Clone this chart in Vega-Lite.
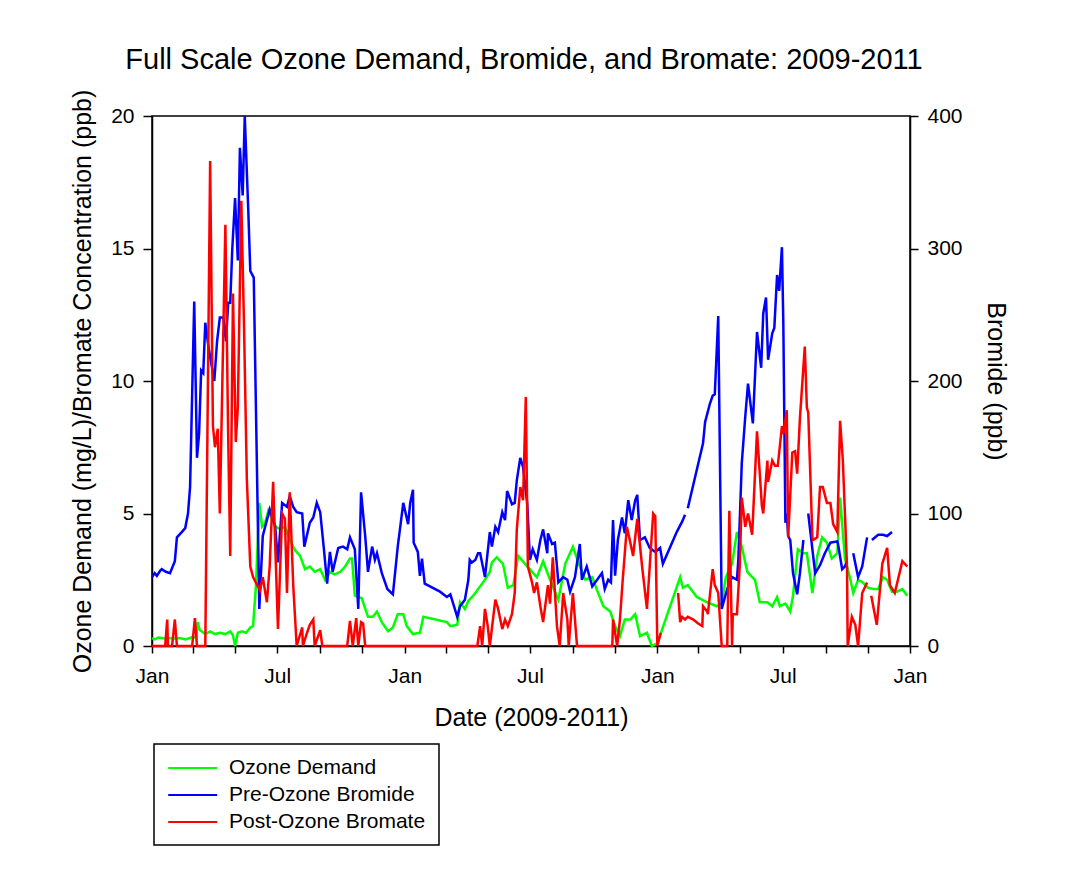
{
  "$schema": "https://vega.github.io/schema/vega-lite/v6.json",
  "autosize": {"type": "none"},
  "width": 758,
  "height": 530,
  "padding": {"left": 152, "top": 116, "right": 156, "bottom": 227},
  "background": "white",
  "title": {
    "text": "Full Scale Ozone Demand, Bromide, and Bromate: 2009-2011",
    "font": "Liberation Sans",
    "fontSize": 29,
    "fontWeight": "normal",
    "color": "black",
    "anchor": "middle",
    "frame": "group",
    "dx": -7,
    "offset": 14
  },
  "layer": [
    {
      "data": {
        "format": {"parse": {"d": "date:'%Y-%j'"}},
        "values": [
          {"d": "2009-001", "v": 0.3}, {"d": "2009-005", "v": 0.25}, {"d": "2009-010", "v": 0.32}, {"d": "2009-015", "v": 0.3},
          {"d": "2009-020", "v": 0.28}, {"d": "2009-027", "v": 0.3}, {"d": "2009-034", "v": 0.28}, {"d": "2009-041", "v": 0.3},
          {"d": "2009-049", "v": 0.25}, {"d": "2009-056", "v": 0.3}, {"d": "2009-060", "v": 0.35}, {"d": "2009-065", "v": 0.3},
          {"d": "2009-067", "v": 0.9}, {"d": "2009-070", "v": 0.6}, {"d": "2009-078", "v": 0.45}, {"d": "2009-085", "v": 0.55},
          {"d": "2009-092", "v": 0.45}, {"d": "2009-099", "v": 0.5}, {"d": "2009-107", "v": 0.45}, {"d": "2009-114", "v": 0.55},
          {"d": "2009-118", "v": 0.4}, {"d": "2009-121", "v": 0.0}, {"d": "2009-125", "v": 0.5}, {"d": "2009-131", "v": 0.55},
          {"d": "2009-137", "v": 0.5}, {"d": "2009-143", "v": 0.7}, {"d": "2009-147", "v": 0.75}, {"d": "2009-151", "v": 2.2},
          {"d": "2009-156", "v": 5.4}, {"d": "2009-160", "v": 4.5}, {"d": "2009-164", "v": 4.6}, {"d": "2009-169", "v": 5.1},
          {"d": "2009-174", "v": 4.8}, {"d": "2009-180", "v": 4.5}, {"d": "2009-186", "v": 4.4}, {"d": "2009-193", "v": 4.5},
          {"d": "2009-200", "v": 4.0}, {"d": "2009-208", "v": 3.6}, {"d": "2009-215", "v": 3.4}, {"d": "2009-222", "v": 2.9},
          {"d": "2009-229", "v": 3.0}, {"d": "2009-236", "v": 2.8}, {"d": "2009-244", "v": 2.9}, {"d": "2009-251", "v": 2.5},
          {"d": "2009-258", "v": 2.8}, {"d": "2009-265", "v": 2.7}, {"d": "2009-273", "v": 2.8}, {"d": "2009-280", "v": 3.0},
          {"d": "2009-287", "v": 3.3}, {"d": "2009-290", "v": 3.3}, {"d": "2009-294", "v": 1.9}, {"d": "2009-304", "v": 1.8},
          {"d": "2009-313", "v": 1.1}, {"d": "2009-320", "v": 1.1}, {"d": "2009-326", "v": 1.3}, {"d": "2009-333", "v": 0.9},
          {"d": "2009-342", "v": 0.56}, {"d": "2009-349", "v": 0.7}, {"d": "2009-356", "v": 1.2}, {"d": "2009-364", "v": 1.2},
          {"d": "2010-004", "v": 0.75}, {"d": "2010-013", "v": 0.45}, {"d": "2010-023", "v": 0.5}, {"d": "2010-028", "v": 1.1},
          {"d": "2010-062", "v": 0.9}, {"d": "2010-067", "v": 0.75}, {"d": "2010-077", "v": 0.8}, {"d": "2010-081", "v": 1.65},
          {"d": "2010-088", "v": 1.4}, {"d": "2010-093", "v": 1.7}, {"d": "2010-100", "v": 1.9}, {"d": "2010-110", "v": 2.25},
          {"d": "2010-117", "v": 2.5}, {"d": "2010-124", "v": 2.8}, {"d": "2010-127", "v": 3.15}, {"d": "2010-134", "v": 3.35},
          {"d": "2010-143", "v": 3.1}, {"d": "2010-150", "v": 2.2}, {"d": "2010-158", "v": 2.3}, {"d": "2010-165", "v": 3.4},
          {"d": "2010-175", "v": 3.1}, {"d": "2010-185", "v": 2.8}, {"d": "2010-192", "v": 2.6}, {"d": "2010-201", "v": 3.2},
          {"d": "2010-211", "v": 2.5}, {"d": "2010-223", "v": 1.75}, {"d": "2010-233", "v": 3.1}, {"d": "2010-244", "v": 3.75},
          {"d": "2010-254", "v": 3.0}, {"d": "2010-262", "v": 2.5}, {"d": "2010-272", "v": 2.6}, {"d": "2010-279", "v": 2.1},
          {"d": "2010-288", "v": 1.5}, {"d": "2010-298", "v": 1.3}, {"d": "2010-305", "v": 0.75}, {"d": "2010-312", "v": 0.37},
          {"d": "2010-319", "v": 1.0}, {"d": "2010-327", "v": 1.0}, {"d": "2010-334", "v": 1.2}, {"d": "2010-341", "v": 0.37},
          {"d": "2010-351", "v": 0.5}, {"d": "2010-358", "v": 0.0}, {"d": "2011-001", "v": 0.1}, {"d": "2011-034", "v": 2.6},
          {"d": "2011-038", "v": 2.2}, {"d": "2011-045", "v": 2.3}, {"d": "2011-058", "v": 1.85}, {"d": "2011-073", "v": 1.65},
          {"d": "2011-087", "v": 1.5}, {"d": "2011-094", "v": 1.6}, {"d": "2011-100", "v": 2.6}, {"d": "2011-109", "v": 3.1},
          {"d": "2011-116", "v": 4.3}, {"d": "2011-123", "v": 3.75}, {"d": "2011-131", "v": 2.8}, {"d": "2011-138", "v": 2.6},
          {"d": "2011-142", "v": 2.5}, {"d": "2011-149", "v": 1.65}, {"d": "2011-160", "v": 1.65}, {"d": "2011-167", "v": 1.5},
          {"d": "2011-174", "v": 1.85}, {"d": "2011-178", "v": 1.5}, {"d": "2011-186", "v": 1.6}, {"d": "2011-193", "v": 1.3},
          {"d": "2011-197", "v": 1.9}, {"d": "2011-204", "v": 3.65}, {"d": "2011-212", "v": 3.5}, {"d": "2011-217", "v": 3.5},
          {"d": "2011-225", "v": 2.0}, {"d": "2011-232", "v": 3.4}, {"d": "2011-239", "v": 4.1}, {"d": "2011-246", "v": 3.9},
          {"d": "2011-253", "v": 3.3}, {"d": "2011-261", "v": 3.5}, {"d": "2011-265", "v": 5.6}, {"d": "2011-272", "v": 3.3},
          {"d": "2011-279", "v": 2.6}, {"d": "2011-284", "v": 2.0}, {"d": "2011-291", "v": 2.5}, {"d": "2011-298", "v": 2.4},
          {"d": "2011-305", "v": 2.2}, {"d": "2011-313", "v": 2.15}, {"d": "2011-320", "v": 2.15}, {"d": "2011-327", "v": 2.6},
          {"d": "2011-333", "v": 2.5}, {"d": "2011-340", "v": 2.05}, {"d": "2011-347", "v": 2.05}, {"d": "2011-355", "v": 2.15},
          {"d": "2011-362", "v": 1.9}
        ]
      },
      "mark": {"type": "line", "strokeWidth": 2.5, "invalid": "break-paths-filter-domains"},
      "encoding": {
        "x": {
          "field": "d", "type": "temporal",
          "scale": {"domain": [{"year": 2009, "month": 1, "date": 1}, {"year": 2012, "month": 1, "date": 1}], "nice": false},
          "axis": {
            "title": "Date (2009-2011)",
            "tickCount": {"interval": "month", "step": 2},
            "labelExpr": "month(datum.value) == 0 || month(datum.value) == 6 ? timeFormat(datum.value, '%b') : ''",
            "tickSize": 7, "labelPadding": 12, "titlePadding": 19,
            "labelFlush": false, "labelOverlap": false, "labelBound": false
          }
        },
        "y": {
          "field": "v", "type": "quantitative",
          "scale": {"domain": [0, 20], "nice": false, "zero": true},
          "axis": {
            "orient": "left",
            "title": "Ozone Demand (mg/L)/Bromate Concentration (ppb)",
            "values": [0, 5, 10, 15, 20],
            "tickSize": 9, "labelPadding": 9, "titlePadding": 15
          }
        },
        "color": {
          "datum": "Ozone Demand", "type": "nominal",
          "scale": {"domain": ["Ozone Demand", "Pre-Ozone Bromide", "Post-Ozone Bromate"], "range": ["#00ff00", "#0000ff", "#ff0000"]},
          "legend": {
            "title": null, "orient": "none", "legendX": 2, "legendY": 628,
            "direction": "vertical",
            "strokeColor": "black", "fillColor": "white",
            "padding": 13, "symbolType": "M-1,0H4", "symbolSize": 384, "symbolStrokeWidth": 2,
            "labelFontSize": 21, "labelFont": "Liberation Sans", "labelColor": "black",
            "labelOffset": 40, "rowPadding": 6, "labelLimit": 400
          }
        }
      }
    },
    {
      "data": {
        "format": {"parse": {"d": "date:'%Y-%j'"}},
        "values": [
          {"d": "2009-001", "v": 52}, {"d": "2009-005", "v": 55}, {"d": "2009-008", "v": 53}, {"d": "2009-013", "v": 57},
          {"d": "2009-015", "v": 58}, {"d": "2009-021", "v": 56}, {"d": "2009-027", "v": 55}, {"d": "2009-034", "v": 64},
          {"d": "2009-037", "v": 82}, {"d": "2009-044", "v": 86}, {"d": "2009-049", "v": 89}, {"d": "2009-053", "v": 100},
          {"d": "2009-056", "v": 120}, {"d": "2009-062", "v": 260}, {"d": "2009-066", "v": 142}, {"d": "2009-069", "v": 160},
          {"d": "2009-072", "v": 208}, {"d": "2009-075", "v": 206}, {"d": "2009-078", "v": 244}, {"d": "2009-082", "v": 228},
          {"d": "2009-086", "v": 215}, {"d": "2009-091", "v": 200}, {"d": "2009-095", "v": 230}, {"d": "2009-099", "v": 248},
          {"d": "2009-104", "v": 248}, {"d": "2009-108", "v": 230}, {"d": "2009-111", "v": 259}, {"d": "2009-114", "v": 259},
          {"d": "2009-117", "v": 300}, {"d": "2009-121", "v": 338}, {"d": "2009-125", "v": 291}, {"d": "2009-128", "v": 376},
          {"d": "2009-132", "v": 340}, {"d": "2009-135", "v": 400}, {"d": "2009-140", "v": 330}, {"d": "2009-143", "v": 283},
          {"d": "2009-148", "v": 278}, {"d": "2009-156", "v": 28}, {"d": "2009-161", "v": 83}, {"d": "2009-167", "v": 95},
          {"d": "2009-171", "v": 103}, {"d": "2009-179", "v": 90}, {"d": "2009-183", "v": 63}, {"d": "2009-189", "v": 108},
          {"d": "2009-196", "v": 105}, {"d": "2009-200", "v": 113}, {"d": "2009-205", "v": 105}, {"d": "2009-210", "v": 101},
          {"d": "2009-218", "v": 100}, {"d": "2009-221", "v": 75}, {"d": "2009-229", "v": 93}, {"d": "2009-234", "v": 97},
          {"d": "2009-239", "v": 108}, {"d": "2009-244", "v": 101}, {"d": "2009-249", "v": 75}, {"d": "2009-254", "v": 47},
          {"d": "2009-258", "v": 71}, {"d": "2009-262", "v": 56}, {"d": "2009-270", "v": 74}, {"d": "2009-277", "v": 75},
          {"d": "2009-283", "v": 73}, {"d": "2009-287", "v": 82}, {"d": "2009-294", "v": 73}, {"d": "2009-299", "v": 28},
          {"d": "2009-303", "v": 116}, {"d": "2009-309", "v": 83}, {"d": "2009-313", "v": 56}, {"d": "2009-319", "v": 75},
          {"d": "2009-323", "v": 65}, {"d": "2009-326", "v": 70}, {"d": "2009-333", "v": 55}, {"d": "2009-341", "v": 43},
          {"d": "2009-349", "v": 39}, {"d": "2009-356", "v": 75}, {"d": "2009-364", "v": 108}, {"d": "2010-006", "v": 92},
          {"d": "2010-009", "v": 108}, {"d": "2010-013", "v": 118}, {"d": "2010-014", "v": 78}, {"d": "2010-020", "v": 71},
          {"d": "2010-023", "v": 53}, {"d": "2010-026", "v": 66}, {"d": "2010-030", "v": 47}, {"d": "2010-052", "v": 41},
          {"d": "2010-062", "v": 37}, {"d": "2010-067", "v": 39}, {"d": "2010-077", "v": 22}, {"d": "2010-081", "v": 30},
          {"d": "2010-088", "v": 35}, {"d": "2010-093", "v": 50}, {"d": "2010-095", "v": 65}, {"d": "2010-098", "v": 63},
          {"d": "2010-103", "v": 65}, {"d": "2010-107", "v": 70}, {"d": "2010-110", "v": 70}, {"d": "2010-117", "v": 52},
          {"d": "2010-124", "v": 86}, {"d": "2010-127", "v": 75}, {"d": "2010-132", "v": 90}, {"d": "2010-136", "v": 86},
          {"d": "2010-142", "v": 101}, {"d": "2010-146", "v": 95}, {"d": "2010-149", "v": 117}, {"d": "2010-156", "v": 107},
          {"d": "2010-160", "v": 108}, {"d": "2010-163", "v": 125}, {"d": "2010-168", "v": 142}, {"d": "2010-172", "v": 135},
          {"d": "2010-178", "v": 108}, {"d": "2010-182", "v": 65}, {"d": "2010-186", "v": 73}, {"d": "2010-192", "v": 65},
          {"d": "2010-197", "v": 80}, {"d": "2010-201", "v": 88}, {"d": "2010-207", "v": 70}, {"d": "2010-208", "v": 85},
          {"d": "2010-214", "v": 77}, {"d": "2010-218", "v": 78}, {"d": "2010-223", "v": 48}, {"d": "2010-230", "v": 52},
          {"d": "2010-236", "v": 50}, {"d": "2010-240", "v": 41}, {"d": "2010-247", "v": 52}, {"d": "2010-254", "v": 77},
          {"d": "2010-257", "v": 50}, {"d": "2010-264", "v": 60}, {"d": "2010-272", "v": 45}, {"d": "2010-279", "v": 50},
          {"d": "2010-286", "v": 55}, {"d": "2010-290", "v": 43}, {"d": "2010-295", "v": 50}, {"d": "2010-299", "v": 48},
          {"d": "2010-302", "v": 95}, {"d": "2010-305", "v": 53}, {"d": "2010-309", "v": 80}, {"d": "2010-315", "v": 97},
          {"d": "2010-319", "v": 85}, {"d": "2010-324", "v": 110}, {"d": "2010-329", "v": 95}, {"d": "2010-334", "v": 110},
          {"d": "2010-337", "v": 114}, {"d": "2010-341", "v": 80}, {"d": "2010-348", "v": 82}, {"d": "2010-355", "v": 74},
          {"d": "2010-363", "v": 71}, {"d": "2011-005", "v": 74}, {"d": "2011-009", "v": 62}, {"d": "2011-029", "v": 86},
          {"d": "2011-037", "v": 94}, {"d": "2011-041", "v": 99}, {"d": "2011-042", "v": null}, {"d": "2011-045", "v": 104},
          {"d": "2011-067", "v": 153}, {"d": "2011-070", "v": 169}, {"d": "2011-077", "v": 183}, {"d": "2011-081", "v": 189},
          {"d": "2011-084", "v": 190}, {"d": "2011-089", "v": 249}, {"d": "2011-094", "v": 28}, {"d": "2011-102", "v": 43},
          {"d": "2011-109", "v": 52}, {"d": "2011-116", "v": 50}, {"d": "2011-118", "v": 65}, {"d": "2011-123", "v": 138},
          {"d": "2011-128", "v": 173}, {"d": "2011-132", "v": 198}, {"d": "2011-139", "v": 168}, {"d": "2011-145", "v": 237},
          {"d": "2011-151", "v": 210}, {"d": "2011-154", "v": 251}, {"d": "2011-158", "v": 263}, {"d": "2011-161", "v": 216},
          {"d": "2011-167", "v": 236}, {"d": "2011-170", "v": 240}, {"d": "2011-174", "v": 280}, {"d": "2011-177", "v": 268},
          {"d": "2011-181", "v": 301}, {"d": "2011-183", "v": 244}, {"d": "2011-186", "v": 93}, {"d": "2011-188", "v": 100},
          {"d": "2011-190", "v": 83}, {"d": "2011-193", "v": 80}, {"d": "2011-197", "v": 55}, {"d": "2011-203", "v": 39},
          {"d": "2011-207", "v": 55}, {"d": "2011-212", "v": 80}, {"d": "2011-214", "v": null}, {"d": "2011-219", "v": 100},
          {"d": "2011-229", "v": 55}, {"d": "2011-236", "v": 61}, {"d": "2011-243", "v": 70}, {"d": "2011-251", "v": 78},
          {"d": "2011-261", "v": 79}, {"d": "2011-262", "v": 77}, {"d": "2011-268", "v": 58}, {"d": "2011-272", "v": 60},
          {"d": "2011-275", "v": 64}, {"d": "2011-279", "v": null}, {"d": "2011-284", "v": 70}, {"d": "2011-291", "v": 52},
          {"d": "2011-297", "v": 60}, {"d": "2011-304", "v": 82}, {"d": "2011-307", "v": null}, {"d": "2011-311", "v": 80},
          {"d": "2011-320", "v": 84}, {"d": "2011-327", "v": 84}, {"d": "2011-333", "v": 83}, {"d": "2011-340", "v": 86}
        ]
      },
      "mark": {"type": "line", "strokeWidth": 2.5, "invalid": "break-paths-filter-domains"},
      "encoding": {
        "x": {"field": "d", "type": "temporal"},
        "y": {
          "field": "v", "type": "quantitative",
          "scale": {"domain": [0, 400], "nice": false, "zero": true},
          "axis": {
            "orient": "right",
            "title": "Bromide (ppb)",
            "values": [0, 100, 200, 300, 400],
            "tickSize": 8, "labelPadding": 9, "titlePadding": 20
          }
        },
        "color": {"datum": "Pre-Ozone Bromide", "type": "nominal"}
      }
    },
    {
      "data": {
        "format": {"parse": {"d": "date:'%Y-%j'"}},
        "values": [
          {"d": "2009-001", "v": 0}, {"d": "2009-020", "v": 0}, {"d": "2009-023", "v": 1.0}, {"d": "2009-024", "v": 0},
          {"d": "2009-030", "v": 0}, {"d": "2009-034", "v": 1.0}, {"d": "2009-037", "v": 0}, {"d": "2009-059", "v": 0},
          {"d": "2009-063", "v": 1.05}, {"d": "2009-066", "v": 0}, {"d": "2009-078", "v": 0}, {"d": "2009-085", "v": 18.3},
          {"d": "2009-089", "v": 8.3}, {"d": "2009-092", "v": 7.5}, {"d": "2009-096", "v": 8.2}, {"d": "2009-099", "v": 5.0},
          {"d": "2009-107", "v": 15.9}, {"d": "2009-111", "v": 8.0}, {"d": "2009-114", "v": 3.4}, {"d": "2009-118", "v": 13.3},
          {"d": "2009-122", "v": 7.7}, {"d": "2009-125", "v": 9.0}, {"d": "2009-130", "v": 16.8}, {"d": "2009-134", "v": 12.0},
          {"d": "2009-138", "v": 6.3}, {"d": "2009-143", "v": 3.0}, {"d": "2009-147", "v": 2.6}, {"d": "2009-153", "v": 2.3},
          {"d": "2009-157", "v": 2.1}, {"d": "2009-161", "v": 2.6}, {"d": "2009-167", "v": 1.65}, {"d": "2009-171", "v": 3.0},
          {"d": "2009-176", "v": 6.2}, {"d": "2009-183", "v": 0.64}, {"d": "2009-189", "v": 5.0}, {"d": "2009-193", "v": 4.8},
          {"d": "2009-196", "v": 2.0}, {"d": "2009-200", "v": 5.8}, {"d": "2009-205", "v": 2.3}, {"d": "2009-210", "v": 0},
          {"d": "2009-218", "v": 0.7}, {"d": "2009-219", "v": 0}, {"d": "2009-225", "v": 0.5}, {"d": "2009-229", "v": 0.8},
          {"d": "2009-234", "v": 1.0}, {"d": "2009-236", "v": 0}, {"d": "2009-244", "v": 0.6}, {"d": "2009-247", "v": 0},
          {"d": "2009-283", "v": 0}, {"d": "2009-287", "v": 0.95}, {"d": "2009-291", "v": 0}, {"d": "2009-296", "v": 1.05},
          {"d": "2009-299", "v": 0}, {"d": "2009-303", "v": 0.9}, {"d": "2009-306", "v": 0.85}, {"d": "2009-309", "v": 0},
          {"d": "2010-106", "v": 0}, {"d": "2010-110", "v": 0.75}, {"d": "2010-113", "v": 0}, {"d": "2010-117", "v": 1.4},
          {"d": "2010-121", "v": 0.75}, {"d": "2010-124", "v": 0}, {"d": "2010-132", "v": 1.75}, {"d": "2010-136", "v": 1.4},
          {"d": "2010-142", "v": 0.64}, {"d": "2010-146", "v": 1.0}, {"d": "2010-150", "v": 0.75}, {"d": "2010-156", "v": 1.2},
          {"d": "2010-160", "v": 2.0}, {"d": "2010-163", "v": 4.4}, {"d": "2010-168", "v": 6.0}, {"d": "2010-172", "v": 5.5},
          {"d": "2010-176", "v": 9.4}, {"d": "2010-179", "v": 3.0}, {"d": "2010-185", "v": 2.4}, {"d": "2010-188", "v": 2.0},
          {"d": "2010-192", "v": 2.4}, {"d": "2010-197", "v": 1.5}, {"d": "2010-201", "v": 0.9}, {"d": "2010-208", "v": 2.3},
          {"d": "2010-211", "v": 1.6}, {"d": "2010-215", "v": 3.35}, {"d": "2010-221", "v": 0.75}, {"d": "2010-225", "v": 0},
          {"d": "2010-230", "v": 2.0}, {"d": "2010-236", "v": 1.0}, {"d": "2010-238", "v": 0}, {"d": "2010-244", "v": 2.0},
          {"d": "2010-250", "v": 0}, {"d": "2010-301", "v": 0}, {"d": "2010-302", "v": 1.0}, {"d": "2010-308", "v": 0},
          {"d": "2010-312", "v": 1.0}, {"d": "2010-316", "v": 2.5}, {"d": "2010-322", "v": 4.5}, {"d": "2010-327", "v": 3.9},
          {"d": "2010-331", "v": 3.4}, {"d": "2010-337", "v": 4.8}, {"d": "2010-344", "v": 3.0}, {"d": "2010-351", "v": 1.4},
          {"d": "2010-355", "v": 3.0}, {"d": "2010-360", "v": 5.0}, {"d": "2010-363", "v": 4.9}, {"d": "2011-001", "v": 0},
          {"d": "2011-006", "v": 0.5}, {"d": "2011-015", "v": null}, {"d": "2011-031", "v": 2.0}, {"d": "2011-034", "v": 0.9},
          {"d": "2011-037", "v": 1.1}, {"d": "2011-041", "v": 1.0}, {"d": "2011-045", "v": 1.1}, {"d": "2011-053", "v": 1.0},
          {"d": "2011-060", "v": 0.85}, {"d": "2011-066", "v": 0.75}, {"d": "2011-067", "v": 1.5}, {"d": "2011-073", "v": 1.3},
          {"d": "2011-074", "v": 1.2}, {"d": "2011-081", "v": 2.9}, {"d": "2011-084", "v": 2.3}, {"d": "2011-089", "v": 2.0},
          {"d": "2011-094", "v": 0}, {"d": "2011-102", "v": 0}, {"d": "2011-105", "v": 5.1}, {"d": "2011-109", "v": 0},
          {"d": "2011-110", "v": 1.2}, {"d": "2011-116", "v": 1.2}, {"d": "2011-120", "v": 3.0}, {"d": "2011-123", "v": 5.6},
          {"d": "2011-128", "v": 4.5}, {"d": "2011-132", "v": 5.0}, {"d": "2011-138", "v": 4.2}, {"d": "2011-145", "v": 8.1},
          {"d": "2011-152", "v": 5.3}, {"d": "2011-154", "v": 5.0}, {"d": "2011-160", "v": 7.0}, {"d": "2011-161", "v": 6.2},
          {"d": "2011-167", "v": 7.0}, {"d": "2011-171", "v": 6.8}, {"d": "2011-175", "v": 6.8}, {"d": "2011-181", "v": 8.3},
          {"d": "2011-183", "v": 8.0}, {"d": "2011-188", "v": 8.9}, {"d": "2011-190", "v": 4.1}, {"d": "2011-196", "v": 7.3},
          {"d": "2011-200", "v": 7.35}, {"d": "2011-203", "v": 6.5}, {"d": "2011-207", "v": 8.6}, {"d": "2011-214", "v": 11.3},
          {"d": "2011-217", "v": 9.0}, {"d": "2011-219", "v": 8.8}, {"d": "2011-225", "v": 4.1}, {"d": "2011-226", "v": 4.0},
          {"d": "2011-232", "v": 4.1}, {"d": "2011-236", "v": 6.0}, {"d": "2011-240", "v": 6.0}, {"d": "2011-246", "v": 5.4},
          {"d": "2011-251", "v": 5.4}, {"d": "2011-255", "v": 4.6}, {"d": "2011-261", "v": 4.3}, {"d": "2011-265", "v": 8.5},
          {"d": "2011-269", "v": 7.0}, {"d": "2011-275", "v": 3.0}, {"d": "2011-276", "v": 0}, {"d": "2011-282", "v": 1.1},
          {"d": "2011-287", "v": 0.8}, {"d": "2011-291", "v": 0}, {"d": "2011-297", "v": 2.0}, {"d": "2011-304", "v": 2.4},
          {"d": "2011-306", "v": null}, {"d": "2011-310", "v": 1.9}, {"d": "2011-318", "v": 0.8}, {"d": "2011-326", "v": 3.1},
          {"d": "2011-333", "v": 3.7}, {"d": "2011-337", "v": 2.3}, {"d": "2011-344", "v": 2.0}, {"d": "2011-355", "v": 3.2},
          {"d": "2011-362", "v": 3.0}
        ]
      },
      "mark": {"type": "line", "strokeWidth": 2.5, "invalid": "break-paths-filter-domains"},
      "encoding": {
        "x": {"field": "d", "type": "temporal"},
        "y": {"field": "v", "type": "quantitative", "scale": {"domain": [0, 20], "nice": false, "zero": true}, "axis": null},
        "color": {"datum": "Post-Ozone Bromate", "type": "nominal"}
      }
    }
  ],
  "resolve": {"scale": {"y": "independent"}, "axis": {"y": "independent"}},
  "config": {
    "font": "Liberation Sans",
    "view": {"stroke": "black", "strokeWidth": 1.5},
    "legend": {"strokeWidth": 1.5},
    "axis": {
      "grid": false,
      "domainColor": "black", "domainWidth": 1.5,
      "tickColor": "black", "tickWidth": 1.5,
      "labelColor": "black", "labelFont": "Liberation Sans", "labelFontSize": 21,
      "titleColor": "black", "titleFont": "Liberation Sans", "titleFontSize": 25, "titleFontWeight": "normal"
    }
  }
}
